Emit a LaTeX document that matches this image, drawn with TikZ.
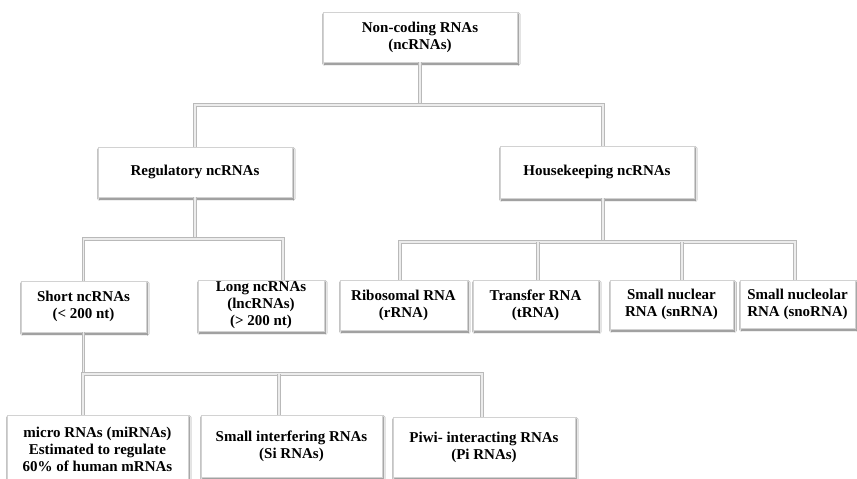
\documentclass[tikz,border=0pt]{standalone}
\usepackage{fontspec}
\setmainfont{Liberation Serif}
\usetikzlibrary{shadows.blur}
\begin{document}
\begin{tikzpicture}[x=1pt,y=-1pt,
  box/.style={draw=gray!35, line width=0.5pt, fill=white, align=center,
    inner sep=0pt, font=\fontsize{15}{17}\selectfont\bfseries,
    blur shadow={shadow xshift=1.4pt, shadow yshift=-2pt,
      shadow blur steps=4, shadow opacity=60}},
  link/.style={draw=gray!55, line width=0.9pt, double=gray!15,
    double distance=1.8pt}
]
\useasboundingbox[fill=white] (0,0) rectangle (857,479);

% bus levels
\coordinate (busA) at (0,105);
\coordinate (busB) at (0,239);
\coordinate (busC) at (0,242);
\coordinate (busD) at (0,374);

% boxes
\node[box, minimum width=194pt, minimum height=50pt] (root) at (420,37) {Non-coding RNAs\\(ncRNAs)};
\node[box, minimum width=194pt, minimum height=50pt] (reg) at (195,172) {Regulatory ncRNAs};
\node[box, minimum width=194pt, minimum height=52pt] (house) at (597,172) {Housekeeping ncRNAs};

\node[box, minimum width=125pt, minimum height=51pt] (short) at (83.5,306.5) {Short ncRNAs\\(< 200 nt)};
\node[box, minimum width=126pt, minimum height=51pt] (long) at (261,305.5) {Long ncRNAs\\(lncRNAs)\\(> 200 nt)};

\node[box, minimum width=127pt, minimum height=50pt] (ribo) at (403.5,305) {Ribosomal RNA\\(rRNA)};
\node[box, minimum width=125pt, minimum height=50pt] (trans) at (535.5,305) {Transfer RNA\\(tRNA)};
\node[box, minimum width=123pt, minimum height=49pt] (snuc) at (671.5,304.5) {Small nuclear\\RNA (snRNA)};
\node[box, minimum width=115pt, minimum height=48pt] (sno) at (797.5,304) {Small nucleolar\\RNA (snoRNA)};

\node[box, minimum width=181pt, minimum height=68pt] (micro) at (97.5,449) {micro RNAs (miRNAs)\\Estimated to regulate\\60\% of human mRNAs};
\node[box, minimum width=181pt, minimum height=62pt] (si) at (291.5,446) {Small interfering RNAs\\(Si RNAs)};
\node[box, minimum width=182pt, minimum height=60pt] (pi) at (484,447) {Piwi- interacting RNAs\\(Pi RNAs)};

% stems into each bus
\draw[link] (root.south) -- (root.south |- busA);
\draw[link] (reg.south) -- (reg.south |- busB);
\draw[link] ([xshift=6pt]house.south) -- ([xshift=6pt]house.south |- busC);
\draw[link] (short.south) -- (short.south |- busD);

% buses and their branches
\draw[link] (reg.north) |- ([xshift=6pt]house.north |- busA) -- ([xshift=6pt]house.north);

\draw[link] (short.north) |- ([xshift=22pt]long.north |- busB) -- ([xshift=22pt]long.north);

\draw[link] ([xshift=-3.5pt]ribo.north) |- ([xshift=-2.5pt]sno.north |- busC) -- ([xshift=-2.5pt]sno.north);
\draw[link] ([xshift=2.5pt]trans.north) -- ([xshift=2.5pt]trans.north |- busC);
\draw[link] ([xshift=10.5pt]snuc.north) -- ([xshift=10.5pt]snuc.north |- busC);

\draw[link] ([xshift=-14.5pt]micro.north) |- ([xshift=-2pt]pi.north |- busD) -- ([xshift=-2pt]pi.north);
\draw[link] ([xshift=-12.5pt]si.north) -- ([xshift=-12.5pt]si.north |- busD);
\end{tikzpicture}
\end{document}
